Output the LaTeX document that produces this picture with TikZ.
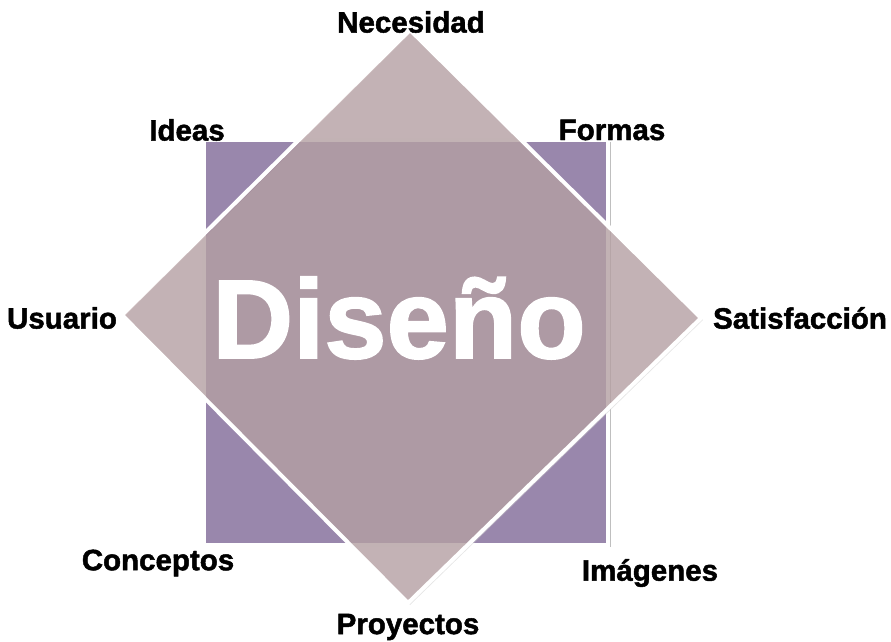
\documentclass[tikz,border=0pt]{standalone}
\usepackage{fontspec}
\setmainfont{Liberation Sans}
\newfontfamily\heavyfont[BoldFeatures={FakeBold=1.6}]{Liberation Sans}
\definecolor{sqfill}{RGB}{153,135,172}
\definecolor{dmfill}{RGB}{172,144,148}
\tikzset{
  lbl/.style={font=\heavyfont\bfseries\fontsize{29.5}{31}\selectfont, text=black, inner sep=0pt},
  shapeedge/.style={draw=white, line width=4pt, line join=miter},
}
\begin{document}
\begin{tikzpicture}[x=1pt,y=1pt]
\useasboundingbox (0,0) rectangle (891,641);
% square
\fill[black!25] (206,94) rectangle (611,499);
\draw[shapeedge, fill=sqfill] (204,96) rectangle (608,501);
% diamond
\coordinate (dt) at (410,611);
\coordinate (dl) at (122,326);
\coordinate (dr) at (701,323);
\coordinate (db) at (408,38);
\fill[black!20, opacity=0.5] ([shift={(2,-2)}]dt) -- ([shift={(2,-2)}]dr) -- ([shift={(2,-2)}]db) -- ([shift={(2,-2)}]dl) -- cycle;
\fill[dmfill, fill opacity=0.6] (dt) -- (dr) -- (db) -- (dl) -- cycle;
\draw[shapeedge] (dt) -- (dr) -- (db) -- (dl) -- cycle;
% title
\node[font=\heavyfont\bfseries\fontsize{112}{112}\selectfont, text=white, inner sep=0pt] (title) at (399,323) {Diseño};
% labels
\node[lbl] (nec) at (411,619) {Necesidad};
\node[lbl] (ide) at (187,511) {Ideas};
\node[lbl] (for) at (612,511) {Formas};
\node[lbl] (usu) at (62,323) {Usuario};
\node[lbl] (sat) at (800,323) {Satisfacción};
\node[lbl] (con) at (158,78) {Conceptos};
\node[lbl] (ima) at (650,68) {Imágenes};
\node[lbl] (pro) at (408,14) {Proyectos};
\end{tikzpicture}
\end{document}
